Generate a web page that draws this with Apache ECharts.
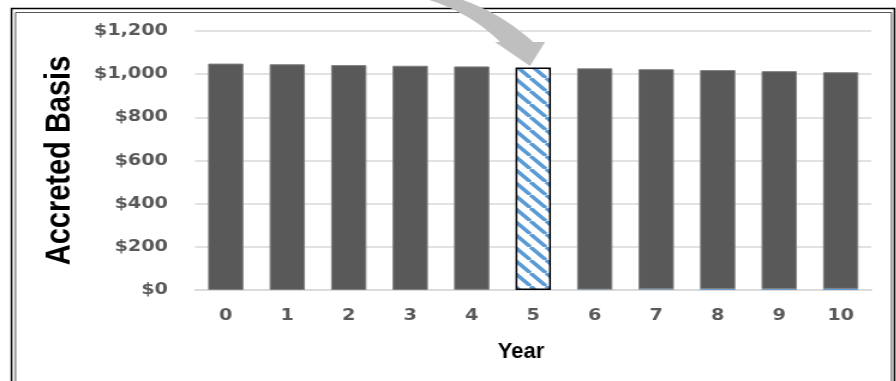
<!DOCTYPE html>
<html>
<head>
<meta charset="utf-8">
<script src="https://cdn.jsdelivr.net/npm/echarts@6/dist/echarts.min.js"></script>
<style>
  html, body { margin: 0; padding: 0; background: #fff; overflow: hidden; }
  #wrap { width: 896px; height: 381px; overflow: hidden; }
  #chart { height: 381px; transform-origin: 0 0; }
</style>
</head>
<body>
<div id="wrap"><div id="chart"></div></div>
<script>
// Year of holding period
const years = ['0', '1', '2', '3', '4', '5', '6', '7', '8', '9', '10'];
// Accreted basis split into the main portion and the small accretion sliver at the base
const accretion = [0, 0, 0, 0, 1, 0, 2, 3, 4, 4, 5];
const basis = [1049, 1046, 1042, 1039, 1035, 1031, 1025, 1020, 1015, 1010, 1004];
// Highlighted year
const highlightIndex = 5;
// Value axis ticks
const yMin = 0, yMax = 1200, yStep = 200;

// The chart is laid out narrower and widened with a horizontal scale
const K = 1.2;
const W = 896 / K;
const el = document.getElementById('chart');
el.style.width = W + 'px';
el.style.transform = 'scaleX(' + K + ')';
const sx = x => x / K;

// Diagonal stripe tile for the highlighted bar
function stripeTile() {
  const w = 13, h = 13;
  const c = document.createElement('canvas');
  c.width = w; c.height = h;
  const g = c.getContext('2d');
  g.fillStyle = '#ffffff';
  g.fillRect(0, 0, w, h);
  g.strokeStyle = '#5b9bd5';
  g.lineWidth = 3.5;
  g.beginPath();
  for (let k = -1; k <= 1; k++) {
    g.moveTo(k * w, 0);
    g.lineTo(k * w + w, h);
  }
  g.stroke();
  return c;
}
const stripes = stripeTile();

// Points along a quadratic curve (used for the call-out arrow outline)
function quad(p0, p1, p2, n) {
  const pts = [];
  for (let i = 0; i <= n; i++) {
    const t = i / n, u = 1 - t;
    pts.push([sx(u * u * p0[0] + 2 * u * t * p1[0] + t * t * p2[0]),
              u * u * p0[1] + 2 * u * t * p1[1] + t * t * p2[1]]);
  }
  return pts;
}
const arrowOuter = quad([457, -2], [500, 12], [533, 42], 24);
const arrowInner = quad([500, 42], [470, 12], [423, -2], 24);
const arrowPoints = [].concat(arrowOuter, [[sx(545), 42], [sx(530), 66], [sx(495), 42]], arrowInner);

const chart = echarts.init(el, null, { renderer: 'canvas' });

const basisData = basis.map((v, i) => i === highlightIndex
  ? { value: v, itemStyle: { color: { image: stripes, repeat: 'repeat' }, borderColor: '#000', borderWidth: 1.5 } }
  : v);

chart.setOption({
  animation: false,
  backgroundColor: '#ffffff',
  grid: { left: sx(195), right: sx(25), top: 31, bottom: 91 },
  xAxis: {
    type: 'category',
    data: years,
    axisTick: { show: false },
    axisLine: { show: true, lineStyle: { color: '#d9d9d9', width: 1.5 } },
    axisLabel: { color: '#595959', fontFamily: 'DejaVu Sans', fontWeight: 'bold', fontSize: 16, margin: 18 }
  },
  yAxis: {
    type: 'value',
    min: yMin, max: yMax, interval: yStep,
    axisLine: { show: false },
    axisTick: { show: false },
    splitLine: { lineStyle: { color: '#d9d9d9', width: 1.5 } },
    axisLabel: {
      color: '#595959', fontFamily: 'DejaVu Sans', fontWeight: 'bold', fontSize: 16, margin: sx(27),
      formatter: v => '$' + v.toLocaleString('en-US')
    },
    name: 'Accreted Basis',
    nameLocation: 'middle',
    nameGap: 98,
    nameTextStyle: { color: '#000', fontFamily: 'Liberation Sans', fontWeight: 'bold', fontSize: 29 }
  },
  series: [
    {
      name: 'Accretion',
      type: 'bar',
      stack: 'b',
      data: accretion,
      barWidth: '57.5%',
      itemStyle: { color: '#5b9bd5' }
    },
    {
      name: 'Basis',
      type: 'bar',
      stack: 'b',
      data: basisData,
      barWidth: '57.5%',
      itemStyle: { color: '#595959', borderColor: '#808080', borderWidth: 1 }
    }
  ],
  graphic: [
    // double frame
    { type: 'rect', silent: true, shape: { x: sx(11.5), y: 8.5, width: sx(883), height: 400 }, style: { fill: null, stroke: '#000', lineWidth: 1.5 } },
    { type: 'rect', silent: true, shape: { x: sx(15.5), y: 12.5, width: sx(876), height: 400 }, style: { fill: null, stroke: '#555', lineWidth: 1 } },
    // category axis title, kept at its natural proportions
    {
      type: 'text', silent: true, x: sx(521), y: 352, scaleX: 1 / K,
      style: { text: 'Year', align: 'center', verticalAlign: 'middle', fill: '#000',
               fontFamily: 'Liberation Sans', fontWeight: 'bold', fontSize: 22 }
    },
    // curved call-out arrow pointing at the highlighted year
    { type: 'polygon', silent: true, z: 100, shape: { points: arrowPoints }, style: { fill: '#bfbfbf' } }
  ]
});
</script>
</body>
</html>
